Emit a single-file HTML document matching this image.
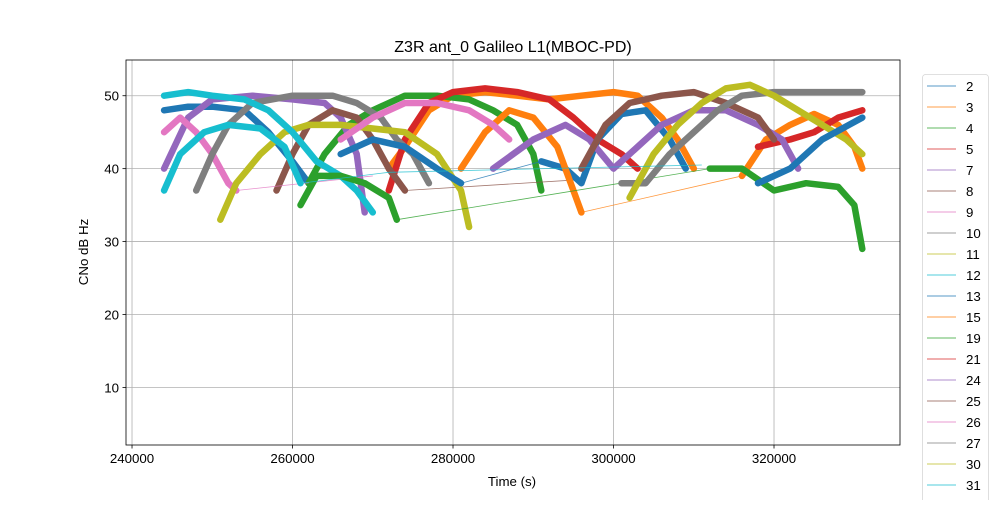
<!DOCTYPE html>
<html><head><meta charset="utf-8"><style>
body{margin:0;background:#fff}
svg text{font-family:"Liberation Sans","DejaVu Sans",sans-serif;fill:#000}
</style></head><body>
<svg id="chart" width="1000" height="500" viewBox="0 0 1000 500" xmlns="http://www.w3.org/2000/svg">
<rect x="0" y="0" width="1000" height="500" fill="#fff"/>
<text x="513" y="52" font-size="16" text-anchor="middle">Z3R ant_0 Galileo L1(MBOC-PD)</text>
<g id="grid"></g>
<g id="series"></g>
<rect x="126" y="60" width="774" height="385" fill="none" stroke="#000" stroke-width="0.8"/>
<g id="ticks"></g>
<text x="512" y="486" font-size="13.3" text-anchor="middle">Time (s)</text>
<text x="88" y="252" font-size="13.3" text-anchor="middle" transform="rotate(-90 88 252)">CNo dB Hz</text>
<g id="legend"></g>
</svg>
<script>
const xTicks = [240000, 260000, 280000, 300000, 320000];
const yTicks = [10, 20, 30, 40, 50];
const satNames = ['2','3','4','5','7','8','9','10','11','12','13','15','19','21','24','25','26','27','30','31','33'];
const palette = ['#1f77b4','#ff7f0e','#2ca02c','#d62728','#9467bd','#8c564b','#e377c2','#7f7f7f','#bcbd22','#17becf'];
// Each satellite: list of segments of [time(ks), CNo]
const s2 = [[[244,48],[247,48.5],[250,48.5],[254,48],[257,45],[260,41],[262,38]]];
const s3 = [[[272,40],[274,43],[277,48],[280,50],[284,50.5],[288,50],[292,49.5],[296,50],[300,50.5],[303,50],[306,47],[308,44],[310,40]]];
const s4 = [[[262,38],[264,42],[267,46],[270,48],[274,50],[278,50],[282,49.5],[285,48],[288,46],[290,42],[291,37]]];
const s5 = [[[272,37],[274,44],[277,49],[280,50.5],[284,51],[288,50.5],[292,49.5],[295,47],[298,44],[301,42],[303,40]]];
const s7 = [[[244,40],[247,47],[250,49.5],[255,50],[260,49.5],[264,49],[266,47],[268,42],[269,34]]];
const s8 = [[[258,37],[260,42],[262,46],[265,48],[268,47],[270,44],[272,40],[274,37]],[[296,38.5]]];
const s9 = [[[244,45],[246,47],[248,45],[250,42],[252,38],[253,37]],[[270,39]]];
const s10 = [[[248,37],[250,42],[252,46],[255,49],[260,50],[265,50],[268,49],[271,47],[273,44],[275,42],[277,38]]];
const s11 = [[[251,33],[253,38],[256,42],[259,45],[262,46],[266,46],[270,45.5],[274,45],[278,42],[281,37],[282,32]]];
const s12 = [[[244,50],[247,50.5],[250,50],[254,49.5],[257,48],[260,45],[263,41],[266,39],[268,37],[270,34]]];
const s13 = [[[266,42],[270,44],[274,43],[278,40],[281,38]],[[291,41],[294,40],[296,38],[298,44],[301,47.5],[304,48],[307,44],[309,40]]];
const s15 = [[[281,40],[284,45],[287,48],[290,47],[293,43],[295,37],[296,34]],[[316,39],[319,44],[322,46],[325,47.5],[328,46],[330,43],[331,40]]];
const s19 = [[[261,35],[263,39],[266,39],[269,38],[272,36],[273,33]],[[312,40],[316,40],[320,37],[324,38],[328,37.5],[330,35],[331,29]]];
const s21 = [[[318,43],[322,44],[325,45],[328,47],[331,48]]];
const s24 = [[[285,40],[290,44],[294,46],[297,44],[300,40],[302,42],[306,46],[310,48],[314,48],[318,46],[321,44],[323,40]]];
const s25 = [[[296,40],[299,46],[302,49],[306,50],[310,50.5],[314,49],[318,47],[320,44]]];
const s26 = [[[266,44],[270,47],[274,49],[278,49],[282,48],[285,46],[287,44]]];
const s27 = [[[301,38],[304,38],[307,42],[310,45],[313,48],[316,50],[320,50.5],[325,50.5],[331,50.5]]];
const s30 = [[[302,36],[305,42],[308,46],[311,49],[314,51],[317,51.5],[320,50],[323,48],[326,46],[329,44],[331,42]]];
const s31 = [[[244,37],[246,42],[249,45],[252,46],[256,45.5],[259,43],[261,38]],[[272,39.5]],[[311,40.5]]];
const s33 = [[[318,38],[322,40],[326,44],[331,47]]];
const allSeries = [s2,s3,s4,s5,s7,s8,s9,s10,s11,s12,s13,s15,s19,s21,s24,s25,s26,s27,s30,s31,s33];

const NS='http://www.w3.org/2000/svg';
const X0=126,X1=900,Y0=60,Y1=445;
const tMin=239250,tMax=335700,vMin=2.1,vMax=54.9;
function xs(t){return X0+(t-tMin)/(tMax-tMin)*(X1-X0);}
function ys(v){return Y1-(v-vMin)/(vMax-vMin)*(Y1-Y0);}
function mk(tag,attrs,parent){const e=document.createElementNS(NS,tag);for(const k in attrs)e.setAttribute(k,attrs[k]);parent.appendChild(e);return e;}
const grid=document.getElementById('grid'),ticks=document.getElementById('ticks'),ser=document.getElementById('series'),leg=document.getElementById('legend');
xTicks.forEach(t=>{const x=xs(t);
 const g=mk('line',{x1:x,x2:x,y1:Y0,y2:Y1,stroke:'#b0b0b0','stroke-width':0.8},grid);
 
 
 const tk=mk('line',{x1:x,x2:x,y1:Y1,y2:Y1+3.5,stroke:'#000','stroke-width':0.8},ticks);
 
 
 const tl=mk('text',{x:x,y:Y1+18,'font-size':13.3,'text-anchor':'middle'},ticks);tl.textContent=t;
 
 
});
yTicks.forEach(v=>{const y=ys(v);
 const g=mk('line',{x1:X0,x2:X1,y1:y,y2:y,stroke:'#b0b0b0','stroke-width':0.8},grid);
 
 
 const tk=mk('line',{x1:X0-3.5,x2:X0,y1:y,y2:y,stroke:'#000','stroke-width':0.8},ticks);
 
 
 const tl=mk('text',{x:X0-7,y:y+5,'font-size':13.3,'text-anchor':'end'},ticks);tl.textContent=v;
 
 
});
allSeries.forEach((segs,i)=>{const c=palette[i%10];
 for(let k=1;k<segs.length;k++){const a=segs[k-1][segs[k-1].length-1],b=segs[k][0];
  const l=mk('line',{x1:xs(a[0]*1000),y1:ys(a[1]),x2:xs(b[0]*1000),y2:ys(b[1]),stroke:c,'stroke-width':0.8,opacity:0.8},ser);
  
  
 }
 segs.forEach(seg=>{if(seg.length<2)return;
  const d=seg.map((p,j)=>(j?'L':'M')+xs(p[0]*1000).toFixed(1)+','+ys(p[1]).toFixed(1)).join('');
  const p=mk('path',{d:d,fill:'none',stroke:c,'stroke-width':6.5,'stroke-linejoin':'round','stroke-linecap':'round'},ser);
  
  
 });
});
const lb=mk('rect',{x:922.5,y:74.5,width:66,height:440,rx:3,fill:'#fff',stroke:'#ccc','stroke-width':0.8,opacity:0.8},leg);


satNames.forEach((n,i)=>{const y=86+i*21;
 const l=mk('line',{x1:927,x2:956,y1:y,y2:y,stroke:palette[i%10],'stroke-width':0.8},leg);
 
 
 const t=mk('text',{x:966,y:y+5,'font-size':13.3},leg);t.textContent=n;
 
 
});
</script>
</body></html>
